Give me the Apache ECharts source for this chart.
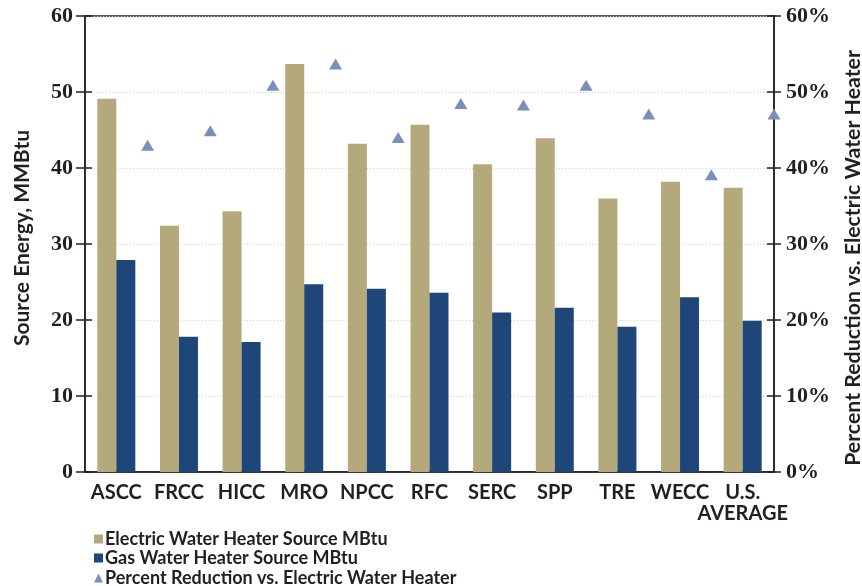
<!DOCTYPE html>
<html><head><meta charset="utf-8">
<script src="https://cdn.jsdelivr.net/npm/echarts@6/dist/echarts.min.js"></script>
<style>html,body{margin:0;padding:0;background:#fff}#c{width:862px;height:586px}</style>
</head><body><div id="c"></div>
<script>
const categories = ['ASCC','FRCC','HICC','MRO','NPCC','RFC','SERC','SPP','TRE','WECC','U.S.\nAVERAGE'];
const electric = [49.1, 32.4, 34.3, 53.7, 43.2, 45.7, 40.5, 43.9, 36.0, 38.2, 37.4];
const gas = [27.9, 17.8, 17.1, 24.7, 24.1, 23.6, 21.0, 21.6, 19.1, 23.0, 19.9];
const pctReduction = [43.0, 44.9, 50.9, 53.7, 44.0, 48.5, 48.3, 50.9, 47.1, 39.1, 47.1];
const leftTicks = [0, 10, 20, 30, 40, 50, 60];
const rightTicks = [0, 10, 20, 30, 40, 50, 60];
const seriesNames = ['Electric Water Heater Source MBtu','Gas Water Heater Source MBtu','Percent Reduction vs. Electric Water Heater'];
const leftTitle = 'Source Energy, MMBtu';
const rightTitle = 'Percent Reduction vs. Electric Water Heater';

const numFont = {fontFamily:'Liberation Serif', fontWeight:'bold', fontSize:22, color:'#231f20'};
const sansBold = {fontFamily:'Lato', fontWeight:'bold', color:'#231f20'};
const chart = echarts.init(document.getElementById('c'));
const pctCats = [''].concat(categories);
const pctData = [null].concat(pctReduction);
const legendTops = [530, 549, 569];
const legendIcons = ['rect','rect','triangle'];
chart.setOption({
  animation:false,
  grid:{left:85,right:88,top:16,bottom:114,show:true,borderColor:'#231f20',borderWidth:1.5},
  graphic:[
    {type:'text', x:22, y:238, rotation:Math.PI/2,
     style:{text:leftTitle, font:'bold 21px Lato', fill:'#231f20', align:'center', verticalAlign:'middle'}},
    {type:'text', x:853, y:258, rotation:Math.PI/2,
     style:{text:rightTitle, font:'bold 21.3px Lato', fill:'#231f20', align:'center', verticalAlign:'middle'}}
  ],
  legend: seriesNames.map((n,i)=>({
    left:94, top:legendTops[i], itemWidth:9, itemHeight:9, padding:0,
    textStyle:Object.assign({fontSize:18, padding:[0,0,0,-3]}, sansBold),
    data:[{name:n, icon:legendIcons[i]}]
  })),
  xAxis:[
    {type:'category', data:categories, position:'bottom',
     axisLine:{lineStyle:{color:'#231f20',width:1.5}},
     axisTick:{inside:true,length:11,interval:0,lineStyle:{color:'#231f20',width:1.5}},
     axisLabel:Object.assign({fontSize:20, interval:0, margin:10, lineHeight:21}, sansBold)},
    {type:'category', data:categories, position:'bottom', gridIndex:0,
     axisLine:{show:false}, axisLabel:{show:false},
     axisTick:{inside:false,length:7,interval:0,lineStyle:{color:'#231f20',width:1.5}}},
    {type:'category', data:pctCats, boundaryGap:false, show:false, position:'top'}
  ],
  yAxis:[
    {type:'value', min:0, max:60, interval:10, position:'left',
     axisLine:{show:true,lineStyle:{color:'#231f20',width:1.5}},
     axisTick:{show:true,length:9,lineStyle:{color:'#231f20',width:1.5}},
     axisLabel:Object.assign({margin:12, formatter:v=>leftTicks.includes(v)?String(v):''}, numFont),
     splitLine:{show:true,lineStyle:{color:'#cfcfcf',type:[1,2],width:1}}},
    {type:'value', min:0, max:60, interval:10, position:'right',
     axisLine:{show:true,lineStyle:{color:'#231f20',width:1.5}},
     axisTick:{show:true,length:7,lineStyle:{color:'#231f20',width:1.5}},
     axisLabel:Object.assign({margin:12, formatter:v=>rightTicks.includes(v)?v+'%':''}, numFont),
     splitLine:{show:false}},
    {type:'value', min:0, max:60, interval:10, position:'left',
     axisLine:{show:false}, axisLabel:{show:false}, splitLine:{show:false},
     axisTick:{show:true,inside:true,length:7,lineStyle:{color:'#231f20',width:1.5}}},
    {type:'value', min:0, max:60, interval:10, position:'right',
     axisLine:{show:false}, axisLabel:{show:false}, splitLine:{show:false},
     axisTick:{show:true,inside:true,length:7,lineStyle:{color:'#231f20',width:1.5}}}
  ],
  series:[
    {name:seriesNames[0], type:'bar', xAxisIndex:0, yAxisIndex:0,
     data:electric, barWidth:19, barGap:'0%', itemStyle:{color:'#b3a97b'}},
    {name:seriesNames[1], type:'bar', xAxisIndex:0, yAxisIndex:0,
     data:gas, barWidth:19, barGap:'0%', itemStyle:{color:'#1e4679'}},
    {name:seriesNames[2], type:'line', xAxisIndex:2, yAxisIndex:1,
     data:pctData, symbol:'triangle', symbolSize:[13,11], showSymbol:true,
     lineStyle:{width:0,opacity:0}, itemStyle:{color:'#7a8fbb'}, z:5}
  ]
});
</script></body></html>
